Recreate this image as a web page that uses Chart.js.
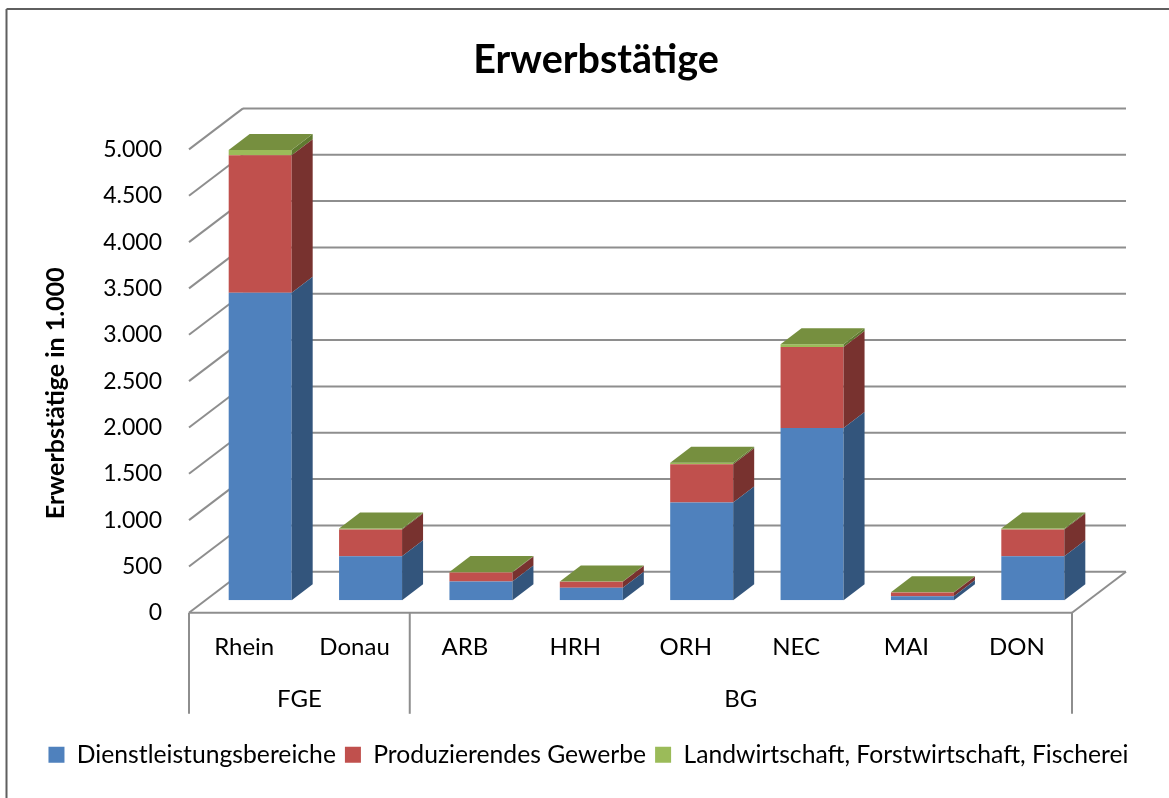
<!DOCTYPE html>
<html lang="de">
<head>
<meta charset="utf-8">
<title>Erwerbstätige</title>
<script src="https://cdn.jsdelivr.net/npm/chart.js@4/dist/chart.umd.min.js"></script>
<style>
  body { margin: 0; background: #fff; }
  canvas { display: block; }
</style>
</head>
<body>
<canvas id="chart" width="1169" height="798"></canvas>
<script>
const categories = ["Rhein", "Donau", "ARB", "HRH", "ORH", "NEC", "MAI", "DON"];
const groupLabels = ["FGE", "BG"];
const groupSizes = [2, 6];
const dienstleistung = [3319, 476, 203, 135, 1055, 1860, 45, 476];
const produzierend = [1483, 287, 97, 65, 414, 874, 39, 287];
const landwirtschaft = [56, 13, 6, 4, 14, 29, 3, 13];

const fontName = "Lato, Carlito, sans-serif";
const gridColor = "#8e8e8e";

// fake 3D: depth of the back wall and of the bars, in px
const wallDx = 54, wallDy = 41;
const barDx = 21, barDy = 16;
const barShiftX = 16, barShiftY = 12.5;

const sideColors = ["#33557c", "#78322f", "#5f7a30"];
const topColor = "#768f3f";

function line(ctx, x1, y1, x2, y2) {
  ctx.beginPath();
  ctx.moveTo(x1, y1);
  ctx.lineTo(x2, y2);
  ctx.stroke();
}

function poly(ctx, pts, color) {
  ctx.fillStyle = color;
  ctx.beginPath();
  pts.forEach((p, i) => (i ? ctx.lineTo(p[0], p[1]) : ctx.moveTo(p[0], p[1])));
  ctx.closePath();
  ctx.fill();
}

const fake3d = {
  id: "fake3d",
  afterLayout(chart) {
    // title sits a bit right of the legend centre
    chart.titleBlock.left += 15;
  },
  beforeDraw(chart) {
    const ctx = chart.ctx;
    ctx.save();
    ctx.fillStyle = "#fff";
    ctx.fillRect(0, 0, chart.width, chart.height);
    // outer frame, only top and left are in the crop
    ctx.strokeStyle = "#5f5f5f";
    ctx.lineWidth = 2;
    line(ctx, 6.5, 798, 6.5, 9);
    line(ctx, 6.5, 9, 1169, 9);
    ctx.restore();
  },
  beforeDatasetsDraw(chart) {
    const ctx = chart.ctx;
    const y = chart.scales.y;
    const x = chart.scales.x;
    ctx.save();
    ctx.strokeStyle = gridColor;
    ctx.lineWidth = 2;
    y.ticks.forEach((t) => {
      const py = y.getPixelForValue(t.value);
      line(ctx, x.left, py, x.left + wallDx, py - wallDy);
      line(ctx, x.left + wallDx, py - wallDy, x.right + wallDx, py - wallDy);
    });
    // floor edges and group separators
    line(ctx, x.left, y.bottom, x.right, y.bottom);
    line(ctx, x.right, y.bottom, x.right + wallDx, y.bottom - wallDy);
    const catWidth = (x.right - x.left) / categories.length;
    let pos = x.left;
    line(ctx, pos, y.bottom, pos, y.bottom + 101);
    groupSizes.forEach((n) => {
      pos += n * catWidth;
      line(ctx, pos, y.bottom, pos, y.bottom + 101);
    });
    ctx.restore();
  },
  beforeDatasetDraw(chart) {
    chart.ctx.save();
    chart.ctx.translate(barShiftX, -barShiftY);
  },
  afterDatasetDraw(chart, args) {
    const ctx = chart.ctx;
    const last = chart.data.datasets.length - 1;
    args.meta.data.forEach((bar) => {
      const right = bar.x + bar.width / 2;
      const left = bar.x - bar.width / 2;
      poly(ctx, [
        [right, bar.y],
        [right + barDx, bar.y - barDy],
        [right + barDx, bar.base - barDy],
        [right, bar.base],
      ], sideColors[args.index]);
      if (args.index === last) {
        poly(ctx, [
          [left, bar.y],
          [left + barDx, bar.y - barDy],
          [right + barDx, bar.y - barDy],
          [right, bar.y],
        ], topColor);
      }
    });
    ctx.restore();
  },
};

function groupCenters() {
  let start = 0;
  return groupSizes.map((n) => {
    const c = start + n / 2;
    start += n;
    return c;
  });
}

const canvas = document.getElementById("chart");
// Lato has a "ti" ligature the original font does not show
canvas.getContext("2d").textRendering = "optimizeSpeed";

new Chart(canvas, {
  type: "bar",
  plugins: [fake3d],
  data: {
    labels: categories,
    datasets: [
      { label: "Dienstleistungsbereiche", data: dienstleistung, backgroundColor: "#4f81bd" },
      { label: "Produzierendes Gewerbe", data: produzierend, backgroundColor: "#c0504d" },
      { label: "Landwirtschaft, Forstwirtschaft, Fischerei", data: landwirtschaft, backgroundColor: "#9bbb59" },
    ],
  },
  options: {
    responsive: false,
    animation: false,
    barPercentage: 1,
    categoryPercentage: 63 / 110.4,
    layout: { padding: { left: 8, bottom: 21 } },
    scales: {
      x: {
        stacked: true,
        weight: 0,
        grid: { display: false },
        border: { display: false },
        ticks: { color: "#000", font: { family: fontName, size: 24 }, padding: 12, maxRotation: 0 },
        afterFit(scale) { scale.height = 60; },
      },
      group: {
        type: "linear",
        axis: "x",
        position: "bottom",
        weight: 1,
        offset: false,
        min: 0,
        max: categories.length,
        grid: { display: false },
        border: { display: false },
        afterBuildTicks(scale) {
          scale.ticks = groupCenters().map((v) => ({ value: v }));
        },
        ticks: {
          autoSkip: false,
          maxRotation: 0,
          color: "#000",
          font: { family: fontName, size: 24 },
          padding: 4,
          callback: (v) => groupLabels[groupCenters().indexOf(v)],
        },
        afterFit(scale) { scale.height = 60.5; },
      },
      y: {
        stacked: true,
        min: 0,
        max: 5000,
        grid: { display: false },
        border: { display: false },
        ticks: {
          stepSize: 500,
          color: "#000",
          font: { family: fontName, size: 23 },
          padding: 19,
          callback: (v) => v.toLocaleString("de-DE"),
        },
        title: {
          display: true,
          text: "Erwerbstätige in 1.000    ",
          color: "#000",
          font: { family: fontName, size: 25, weight: "bold" },
          padding: { top: 33, bottom: 0 },
        },
        afterFit(scale) { scale.width = 181; },
      },
      rightGap: {
        position: "right",
        grid: { display: false },
        border: { display: false },
        ticks: { display: false },
        afterFit(scale) { scale.width = 97; },
      },
    },
    plugins: {
      title: {
        display: true,
        text: "Erwerbstätige",
        color: "#000",
        font: { family: fontName, size: 39.5, weight: "bold" },
        padding: { top: 37, bottom: 65 },
      },
      legend: {
        position: "bottom",
        labels: {
          color: "#000",
          font: { family: fontName, size: 24.7 },
          boxWidth: 16,
          boxHeight: 16,
          padding: 9,
        },
      },
      tooltip: { enabled: false },
    },
  },
});
</script>
</body>
</html>
